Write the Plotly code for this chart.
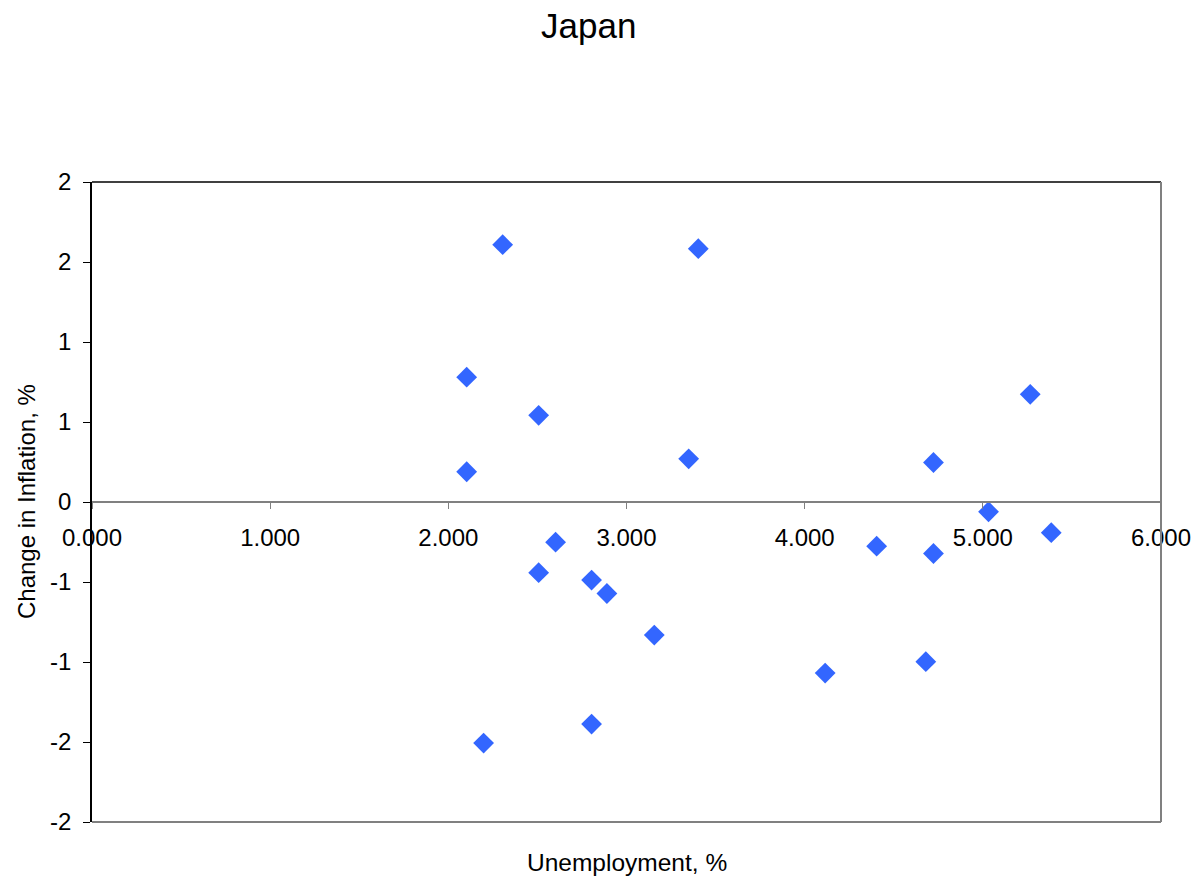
import plotly.graph_objects as go
from decimal import Decimal, ROUND_HALF_UP

# Unemployment rate (%) vs. change in inflation (percentage points)
unemployment = [2.305, 3.403, 2.103, 2.507, 2.103, 3.349, 5.266, 4.723, 5.032, 5.384,
                2.602, 2.507, 2.804, 2.890, 3.156, 4.404, 4.723, 4.115, 4.680, 2.804, 2.198]
inflation_change = [1.608, 1.583, 0.780, 0.542, 0.189, 0.270, 0.673, 0.247, -0.061, -0.192,
                    -0.251, -0.442, -0.488, -0.572, -0.832, -0.276, -0.322, -1.069, -0.998,
                    -1.388, -1.507]

y_tick_values = [-2.0, -1.5, -1.0, -0.5, 0.0, 0.5, 1.0, 1.5, 2.0]
x_tick_values = [0, 1, 2, 3, 4, 5, 6]


def whole_number(v):
    # integer format, halves rounded away from zero
    return str(int(Decimal(str(v)).quantize(Decimal("1"), rounding=ROUND_HALF_UP)))


y_tick_text = [whole_number(v) for v in y_tick_values]
x_tick_text = [f"{v:.3f}" for v in x_tick_values]

FONT = "Liberation Sans, Arial, sans-serif"

fig = go.Figure(
    go.Scatter(
        x=unemployment,
        y=inflation_change,
        mode="markers",
        marker=dict(symbol="diamond", size=16, color="#3366FF", line=dict(width=0)),
        hoverinfo="x+y",
    )
)

fig.update_layout(
    width=1198,
    height=878,
    margin=dict(l=92, r=37, t=182, b=56),
    paper_bgcolor="white",
    plot_bgcolor="white",
    showlegend=False,
    font=dict(family=FONT, color="black", size=24),
    xaxis=dict(
        range=[0, 6],
        tickvals=x_tick_values,
        ticktext=x_tick_text,
        anchor="free",
        position=0.5,
        automargin=False,
        showline=True,
        linecolor="#808080",
        linewidth=2,
        ticks="outside",
        ticklen=6,
        tickcolor="#808080",
        tickwidth=1,
        ticklabelstandoff=8,
        showgrid=False,
        zeroline=False,
        tickfont=dict(size=24, family=FONT),
    ),
    yaxis=dict(
        range=[-2, 2],
        tickvals=y_tick_values,
        ticktext=y_tick_text,
        automargin=False,
        showline=True,
        linecolor="black",
        linewidth=1.5,
        ticks="outside",
        ticklen=7,
        tickcolor="black",
        tickwidth=1,
        ticklabelstandoff=7,
        showgrid=False,
        zeroline=False,
        tickfont=dict(size=24, family=FONT),
    ),
    shapes=[
        dict(type="line", xref="paper", yref="paper", x0=0, x1=1, y0=1, y1=1,
             line=dict(color="black", width=1.5)),
        dict(type="line", xref="paper", yref="paper", x0=1, x1=1, y0=0, y1=1,
             line=dict(color="#808080", width=2)),
        dict(type="line", xref="paper", yref="paper", x0=0, x1=1, y0=0, y1=0,
             line=dict(color="#808080", width=2)),
    ],
    annotations=[
        dict(text="Japan", xref="paper", yref="paper", x=(588 - 92) / 1069, y=1,
             yshift=157, xanchor="center", yanchor="middle", showarrow=False,
             font=dict(size=35, family=FONT)),
        dict(text="Unemployment, %", xref="paper", yref="paper", x=0.5, y=0,
             yshift=-40, xanchor="center", yanchor="middle", showarrow=False,
             font=dict(size=24.5, family=FONT)),
        dict(text="Change in Inflation, %", xref="paper", yref="paper", x=0, y=0.5,
             xshift=-66, xanchor="center", yanchor="middle", textangle=-90,
             showarrow=False, font=dict(size=24, family=FONT)),
    ],
)

fig.write_html("out.html")
